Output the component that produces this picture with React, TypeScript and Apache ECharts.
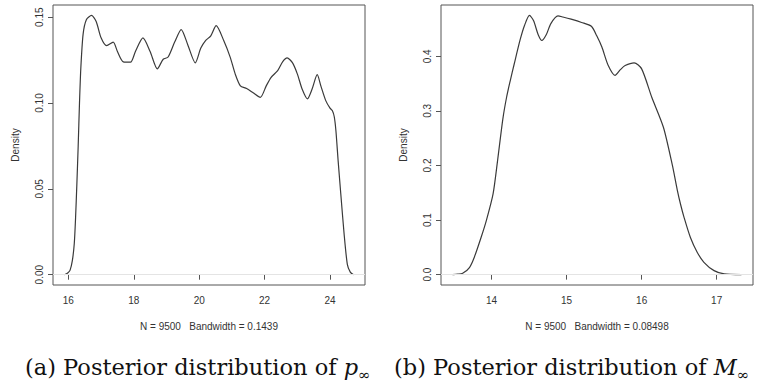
import React, { useEffect, useRef } from "react";
import * as echarts from "echarts";

// Left panel: posterior density of p_inf
const pX = [15.88, 15.98, 16.05, 16.12, 16.18, 16.22, 16.26, 16.3, 16.34, 16.38, 16.45, 16.55, 16.71, 16.85, 17.0, 17.17, 17.37, 17.5, 17.68, 17.9, 18.05, 18.28, 18.5, 18.72, 18.9, 19.05, 19.25, 19.45, 19.65, 19.88, 20.05, 20.2, 20.35, 20.52, 20.75, 20.95, 21.1, 21.26, 21.45, 21.65, 21.87, 22.05, 22.2, 22.4, 22.55, 22.69, 22.85, 23.0, 23.15, 23.31, 23.45, 23.61, 23.72, 23.87, 24.0, 24.07, 24.13, 24.18, 24.25, 24.33, 24.43, 24.53, 24.62, 24.72];
const pY = [0, 0.001, 0.0025, 0.008, 0.018, 0.033, 0.053, 0.075, 0.1, 0.12, 0.14, 0.1485, 0.151, 0.1475, 0.138, 0.1334, 0.1355, 0.13, 0.124, 0.1238, 0.13, 0.1379, 0.13, 0.1199, 0.1255, 0.1268, 0.1355, 0.1428, 0.134, 0.1234, 0.132, 0.1365, 0.139, 0.1451, 0.1364, 0.1266, 0.117, 0.11, 0.1085, 0.106, 0.1033, 0.11, 0.115, 0.1189, 0.124, 0.1263, 0.1235, 0.117, 0.108, 0.1024, 0.108, 0.1165, 0.11, 0.1014, 0.097, 0.0956, 0.092, 0.084, 0.066, 0.047, 0.024, 0.006, 0.0015, 0];

// Right panel: posterior density of M_inf
const mX = [13.48, 13.55, 13.615, 13.705, 13.77, 13.86, 13.93, 14.02, 14.08, 14.15, 14.2, 14.25, 14.3, 14.38, 14.44, 14.505, 14.56, 14.62, 14.67, 14.73, 14.79, 14.885, 14.95, 15.06, 15.2, 15.33, 15.4, 15.47, 15.555, 15.645, 15.72, 15.78, 15.9, 16.0, 16.135, 16.29, 16.41, 16.475, 16.52, 16.565, 16.65, 16.74, 16.83, 16.965, 17.1, 17.33];
const mY = [0, 0.0008, 0.0024, 0.013, 0.032, 0.068, 0.099, 0.148, 0.209, 0.285, 0.325, 0.356, 0.385, 0.43, 0.457, 0.475, 0.465, 0.44, 0.429, 0.44, 0.46, 0.474, 0.472, 0.468, 0.462, 0.455, 0.438, 0.417, 0.383, 0.365, 0.376, 0.383, 0.388, 0.377, 0.325, 0.27, 0.2, 0.155, 0.128, 0.105, 0.068, 0.041, 0.0226, 0.0073, 0.0013, 0];

const pXTicks = [16, 18, 20, 22, 24];
const pYTicks = [0, 0.05, 0.1, 0.15];
const mXTicks = [14, 15, 16, 17];
const mYTicks = [0, 0.1, 0.2, 0.3, 0.4];

const pSubtitle = "N = 9500   Bandwidth = 0.1439";
const mSubtitle = "N = 9500   Bandwidth = 0.08498";

const SANS = "'Liberation Sans', Arial, sans-serif";
const SERIF = "'DejaVu Serif', serif";
const INK = "#333";
const BOX = "#555";

function xAxisCfg(grid: number, min: number, max: number, ticks: number[], name: string) {
  return {
    type: "value",
    gridIndex: grid,
    min,
    max,
    axisLine: { show: false },
    splitLine: { show: false },
    axisTick: { show: true, length: 5, customValues: ticks, lineStyle: { color: BOX } },
    axisLabel: {
      customValues: ticks,
      margin: 10,
      fontFamily: SANS,
      fontSize: 10,
      color: INK,
    },
    name,
    nameLocation: "middle",
    nameGap: 36,
    nameTextStyle: { fontFamily: SANS, fontSize: 10, color: INK },
  };
}

function yAxisCfg(grid: number, min: number, max: number, ticks: number[], digits: number) {
  return {
    type: "value",
    gridIndex: grid,
    min,
    max,
    axisLine: { show: false },
    splitLine: { show: false },
    axisTick: { show: true, length: 5, customValues: ticks, lineStyle: { color: BOX } },
    axisLabel: {
      customValues: ticks,
      rotate: 90,
      margin: 9,
      fontFamily: SANS,
      fontSize: 10,
      color: INK,
      formatter: (v: number) => v.toFixed(digits),
    },
    name: "Density",
    nameLocation: "middle",
    nameRotate: 90,
    nameGap: 33,
    nameTextStyle: { fontFamily: SANS, fontSize: 10, color: INK },
  };
}

function zip(xs: number[], ys: number[]) {
  return xs.map((x, i) => [x, ys[i]]);
}

function caption(left: number, lead: string, sym: string) {
  return {
    type: "text",
    left,
    top: 352,
    style: {
      text: lead + "{i|" + sym + "}{s|∞}",
      fontFamily: SERIF,
      fontSize: 22.5,
      lineHeight: 30,
      fill: "#111",
      rich: {
        i: { fontFamily: SERIF, fontSize: 22.5, fontStyle: "italic", lineHeight: 30, fill: "#111" },
        s: { fontFamily: SERIF, fontSize: 15, lineHeight: 16, verticalAlign: "bottom", fill: "#111" },
      },
    },
  };
}

export default function App() {
  const ref = useRef<HTMLDivElement>(null);
  useEffect(() => {
    if (!ref.current) return;
    const chart = echarts.init(ref.current, null, { renderer: "svg" });
    const zeroLine = {
      silent: true,
      symbol: ["none", "none"],
      label: { show: false },
      lineStyle: { color: "#e4e4e4", type: "solid", width: 1 },
      data: [{ yAxis: 0 }],
    };
    const line = { color: "#3a3a3a", width: 1.2 };
    chart.setOption({
      animation: false,
      backgroundColor: "#fff",
      grid: [
        { left: 53, top: 5, width: 312, height: 280, show: true, borderColor: BOX, borderWidth: 1 },
        { left: 441, top: 5, width: 312, height: 280, show: true, borderColor: BOX, borderWidth: 1 },
      ],
      xAxis: [
        xAxisCfg(0, 15.53, 25.07, pXTicks, pSubtitle),
        xAxisCfg(1, 13.326, 17.484, mXTicks, mSubtitle),
      ],
      yAxis: [
        yAxisCfg(0, -0.006, 0.1571, pYTicks, 2),
        yAxisCfg(1, -0.019, 0.494, mYTicks, 1),
      ],
      series: [
        {
          type: "line",
          xAxisIndex: 0,
          yAxisIndex: 0,
          data: zip(pX, pY),
          smooth: 0.25,
          showSymbol: false,
          lineStyle: line,
          markLine: zeroLine,
          z: 3,
        },
        {
          type: "line",
          xAxisIndex: 1,
          yAxisIndex: 1,
          data: zip(mX, mY),
          smooth: 0.25,
          showSymbol: false,
          lineStyle: line,
          markLine: zeroLine,
          z: 3,
        },
      ],
      graphic: [
        caption(25, "(a) Posterior distribution of ", "p"),
        caption(394, "(b) Posterior distribution of ", "M"),
      ],
    });
    return () => chart.dispose();
  }, []);
  return (
    <div
      ref={ref}
      style={{ position: "absolute", left: 0, top: 0, width: 757, height: 389 }}
    />
  );
}
